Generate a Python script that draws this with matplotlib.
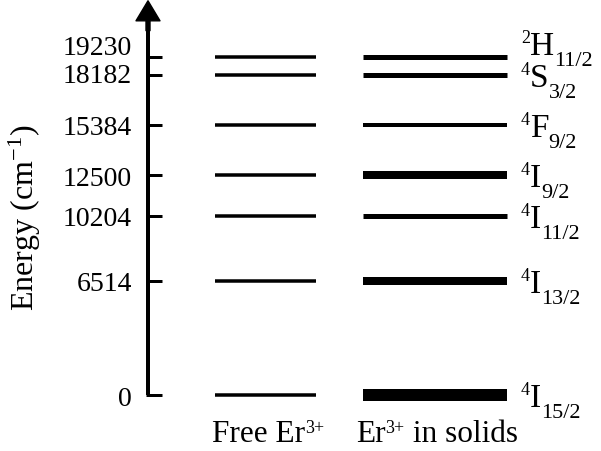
import matplotlib
matplotlib.use("Agg")
import matplotlib.pyplot as plt

plt.rcParams["font.family"] = ["Liberation Serif", "DejaVu Serif"]
plt.rcParams["mathtext.fontset"] = "custom"
plt.rcParams["mathtext.rm"] = "Liberation Serif"
plt.rcParams["mathtext.it"] = "Liberation Serif:italic"

# Er3+ energy levels (cm^-1), ground state last
energies = [19230, 18182, 15384, 12500, 10204, 6514, 0]
# term symbols: (multiplicity, L letter, J)
terms = [("2", "H", "11/2"), ("4", "S", "3/2"), ("4", "F", "9/2"),
         ("4", "I", "9/2"), ("4", "I", "11/2"), ("4", "I", "13/2"),
         ("4", "I", "15/2")]
# line thickness of the crystal-field broadened levels (px)
solid_widths = [5, 5, 4, 8, 5, 8, 12]

ion = "Er"
charge = "3+"

W, H = 601, 452
fig = plt.figure(figsize=(W / 100, H / 100), dpi=100)
ax = fig.add_axes([0, 0, 1, 1])
ax.set_xlim(0, W)
ax.set_ylim(-3179, 22526)
ax.axis("off")

px = 72 / 100  # points per pixel
renderer = fig.canvas.get_renderer()


def run_text(xy, pieces, coords="data", base_dy=0):
    """Write pieces of (text, size, raise in px) one after another."""
    off = 0
    for txt, size, dy in pieces:
        t = ax.annotate(txt, xy=xy, xycoords=coords,
                        xytext=(off, (base_dy + dy) * px),
                        textcoords="offset points", fontsize=size,
                        ha="left", va="baseline")
        off += t.get_window_extent(renderer).width * px
    return off


# energy axis with arrow head
axis_x = 148
ax.plot([axis_x, axis_x], [0, 21000], color="black", lw=4 * px,
        solid_capstyle="butt")
ax.annotate("", xy=(axis_x, 0.996), xycoords=("data", "axes fraction"),
            xytext=(axis_x, 0.93), textcoords=("data", "axes fraction"),
            arrowprops=dict(width=4 * px, headwidth=24 * px,
                            headlength=20 * px, color="black", shrink=0))
ax.hlines(energies, axis_x - 2, axis_x + 14, colors="black", lw=3 * px)

# tick labels, the top pair pushed apart a little
label_nudge = {19230: 12, 18182: 3}
for e in energies:
    ax.annotate(str(e), xy=(axis_x, e), xytext=(-16 * px, label_nudge.get(e, 0) * px),
                textcoords="offset points", ha="right", va="center_baseline",
                fontsize=20)

# free ion levels
ax.hlines(energies, 215, 316, colors="black", lw=3.5 * px, capstyle="butt")
# levels in a host lattice
ax.hlines(energies, 363, 507, colors="black",
          lw=[w * px for w in solid_widths], capstyle="butt")

term_nudge = {19230: 14}
for e, (mult, letter, j) in zip(energies, terms):
    run_text((521, e), [(mult, 13, 12), (letter, 24, 0), (j, 16, -11)],
             base_dy=-11 + term_nudge.get(e, 0))

# column captions
run_text((212, 10), [("Free " + ion, 22.5, 0), (charge, 13, 9)],
         coords="figure pixels")
run_text((356, 10), [(ion, 22.5, 0), (charge, 13, 9), (" in solids", 22.5, 0)],
         coords="figure pixels")

fig.text(25 / W, 1 - 218 / H, "Energy (cm$^{-1}$)", rotation=90,
         ha="center", va="center", fontsize=23)

fig.savefig("out.png", dpi=100)
